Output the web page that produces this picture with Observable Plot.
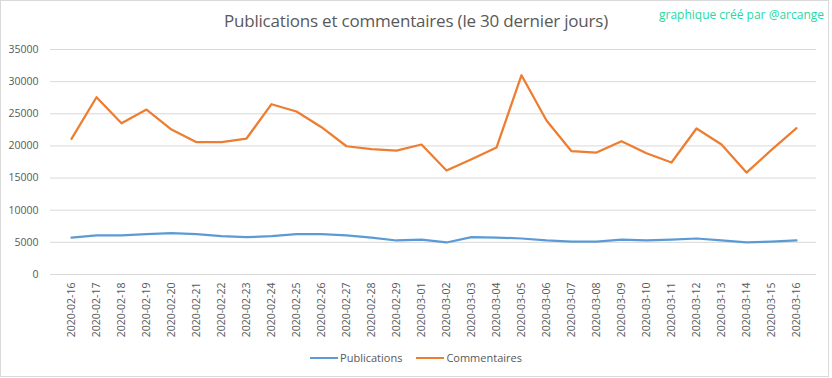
<!DOCTYPE html>
<html>
<head>
<meta charset="utf-8">
<script src="https://cdn.jsdelivr.net/npm/d3@7"></script>
<script src="https://cdn.jsdelivr.net/npm/@observablehq/plot@0.6"></script>
<style>
  html, body { margin: 0; padding: 0; background: #fff; }
  #chart { position: relative; width: 832px; height: 378px; overflow: hidden; font-family: "Open Sans", sans-serif; }
  #frame { position: absolute; left: 0; top: 0; width: 827px; height: 375px; border: 1px solid #d9d9d9; }
  #title { position: absolute; left: 0; width: 832px; top: 9px; text-align: center; font-size: 17px; color: #595959; letter-spacing: -0.2px; }
  #credit { position: absolute; right: 8px; top: 6px; font-size: 12px; color: #1fd9a4; }
  #plot { position: absolute; left: 0; top: 0; }
  #legend { position: absolute; left: 0; width: 832px; top: 350px; display: flex; justify-content: center; gap: 14px; font-size: 11px; color: #595959; }
  .item { display: flex; align-items: center; }
  .sw { width: 28px; height: 2px; margin-right: 2px; }
</style>
</head>
<body>
<div id="chart">
  <div id="frame"></div>
  <div id="plot"></div>
  <div id="title">Publications et commentaires (le 30 dernier jours)</div>
  <div id="credit">graphique créé par @arcange</div>
  <div id="legend"></div>
</div>
<script>
const dates = ["2020-02-16","2020-02-17","2020-02-18","2020-02-19","2020-02-20","2020-02-21","2020-02-22","2020-02-23","2020-02-24","2020-02-25","2020-02-26","2020-02-27","2020-02-28","2020-02-29","2020-03-01","2020-03-02","2020-03-03","2020-03-04","2020-03-05","2020-03-06","2020-03-07","2020-03-08","2020-03-09","2020-03-10","2020-03-11","2020-03-12","2020-03-13","2020-03-14","2020-03-15","2020-03-16"];
const publications = [5750,6070,6100,6270,6430,6270,5960,5800,5960,6270,6270,6100,5750,5290,5440,4980,5800,5750,5600,5290,5130,5130,5440,5290,5440,5600,5290,4980,5130,5290];
const commentaires = [21100,27570,23530,25660,22550,20580,20580,21150,26490,25350,22910,19950,19490,19280,20220,16170,17930,19750,31000,23950,19180,18970,20740,18870,17420,22710,20220,15860,19390,22760];
const seriesNames = ["Publications","Commentaires"];
const seriesColors = ["#5b9bd5","#ed7d31"];
const yTicks = [0,5000,10000,15000,20000,25000,30000,35000];

const rows = [];
dates.forEach((d, i) => {
  rows.push({date: d, value: publications[i], serie: seriesNames[0]});
  rows.push({date: d, value: commentaires[i], serie: seriesNames[1]});
});

const chart = Plot.plot({
  width: 832,
  height: 345,
  marginTop: 49,
  marginLeft: 50,
  marginRight: 16,
  marginBottom: 71,
  style: {fontFamily: "'Open Sans', sans-serif", fontSize: "10.5px", color: "#595959", background: "transparent"},
  x: {type: "point", domain: dates, padding: 0.5, label: null, tickRotate: -90, tickSize: 0, tickPadding: 8},
  y: {domain: [0, 35000], ticks: yTicks, tickFormat: d => String(d), label: null, tickSize: 0, tickPadding: 12},
  color: {domain: seriesNames, range: seriesColors},
  marks: [
    Plot.ruleY(yTicks, {stroke: "#d9d9d9", strokeWidth: 1}),
    Plot.axisY({ticks: yTicks, tickFormat: d => String(d), tickSize: 0, tickPadding: 12, label: null, fill: "#595959"}),
    Plot.axisX({tickRotate: -90, tickSize: 0, tickPadding: 8, label: null, fill: "#595959"}),
    Plot.line(rows, {x: "date", y: "value", z: "serie", stroke: "serie", strokeWidth: 2.25, strokeLinejoin: "round", strokeLinecap: "round"})
  ]
});
document.getElementById("plot").appendChild(chart);

const legend = document.getElementById("legend");
seriesNames.forEach((n, i) => {
  const it = document.createElement("div");
  it.className = "item";
  const sw = document.createElement("div");
  sw.className = "sw";
  sw.style.background = seriesColors[i];
  const t = document.createElement("span");
  t.textContent = n;
  it.appendChild(sw); it.appendChild(t);
  legend.appendChild(it);
});
</script>
</body>
</html>
